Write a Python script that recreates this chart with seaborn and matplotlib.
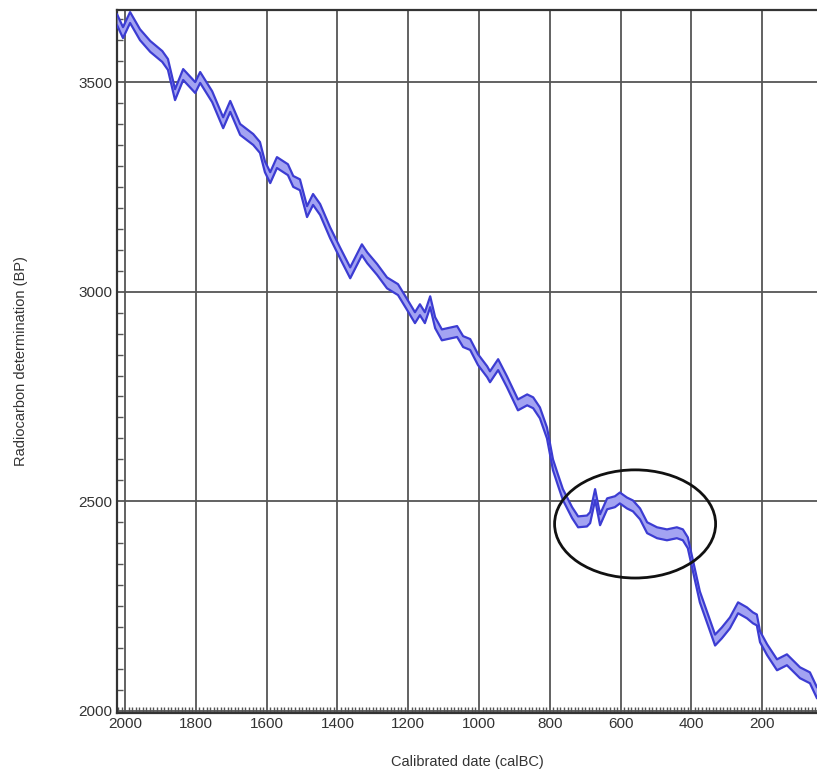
import matplotlib
matplotlib.use("Agg")
import matplotlib.pyplot as plt
from matplotlib.patches import Ellipse
from matplotlib.ticker import MultipleLocator
import seaborn as sns
import pandas as pd

# Calibration curve (calBC, radiocarbon BP)
years = [2023, 2006, 1986, 1958, 1929, 1895, 1879, 1859, 1836, 1802, 1788, 1754,
         1723, 1703, 1675, 1638, 1619, 1605, 1590, 1571, 1540, 1525, 1506, 1486,
         1469, 1449, 1421, 1393, 1364, 1331, 1316, 1288, 1260, 1229, 1203, 1181,
         1167, 1153, 1138, 1124, 1105, 1062, 1045, 1025, 1003, 977, 969, 946,
         921, 890, 864, 847, 828, 808, 791, 777, 763, 737, 720, 695, 686, 672,
         658, 638, 616, 602, 582, 565, 545, 525, 497, 469, 441, 424, 410, 395,
         376, 353, 333, 314, 291, 268, 243, 226, 215, 206, 186, 158, 130, 93, 65, 45]
bp = [3649, 3618, 3654, 3613, 3585, 3561, 3542, 3470, 3518, 3487, 3511, 3465,
      3403, 3442, 3387, 3363, 3344, 3298, 3272, 3308, 3291, 3263, 3255, 3191,
      3220, 3196, 3141, 3093, 3045, 3100, 3081, 3053, 3021, 3005, 2969, 2938,
      2957, 2938, 2976, 2926, 2897, 2905, 2881, 2874, 2838, 2809, 2797, 2826,
      2785, 2730, 2742, 2735, 2711, 2663, 2587, 2551, 2516, 2473, 2451, 2453, 2461, 2516,
      2456, 2494, 2499, 2508, 2496, 2489, 2470, 2437, 2425, 2420, 2425, 2420, 2401, 2344,
      2272, 2217, 2169, 2186, 2210, 2246, 2234, 2222, 2217, 2177, 2146, 2110, 2122, 2091, 2079, 2043]
band_halfwidth = 13

x_ticks = [2000, 1800, 1600, 1400, 1200, 1000, 800, 600, 400, 200]
y_ticks = [2000, 2500, 3000, 3500]

# Highlighted plateau (ellipse) in data units
ell_center = (559, 2446)
ell_width = 455
ell_height = 258

df = pd.DataFrame({"year": years, "bp": bp})
df["upper"] = df["bp"] + band_halfwidth
df["lower"] = df["bp"] - band_halfwidth

sns.set_style("white")
plt.rcParams["font.family"] = ["Liberation Sans", "DejaVu Sans"]

fig = plt.figure(figsize=(8.17, 7.73), dpi=100)
ax = fig.add_axes([0.1432, 0.0776, 0.8568, 0.9095])

ax.fill_between(df["year"], df["lower"], df["upper"], color="#a3a3f2", lw=0, zorder=3)
sns.lineplot(data=df, x="year", y="upper", ax=ax, color="#3c3cd2", lw=1.6, sort=False, zorder=4)
sns.lineplot(data=df, x="year", y="lower", ax=ax, color="#3c3cd2", lw=1.6, sort=False, zorder=4)

ax.add_patch(Ellipse(ell_center, ell_width, ell_height, fill=False,
                     edgecolor="#111111", lw=2.0, zorder=5))

ax.set_xlim(2023, 45)
ax.set_ylim(1995, 3672)
ax.set_xticks(x_ticks)
ax.set_yticks(y_ticks)
ax.xaxis.set_minor_locator(MultipleLocator(10))
ax.yaxis.set_minor_locator(MultipleLocator(50))
ax.grid(True, which="major", color="#555555", lw=1.3, zorder=1)
ax.tick_params(axis="both", which="major", direction="in", length=6, width=1.2,
               colors="#333333", labelsize=11, labelcolor="#333333")
ax.tick_params(axis="both", which="minor", direction="in", length=4, width=1.0,
               colors="#555555", bottom=True, left=True)
ax.tick_params(axis="x", pad=3)
for s in ["left", "bottom", "top"]:
    ax.spines[s].set_color("#333333")
    ax.spines[s].set_linewidth(1.6)
ax.spines["right"].set_visible(False)

ax.set_xlabel("Calibrated date (calBC)", fontsize=10.5, color="#333333", labelpad=17)
ax.set_ylabel("Radiocarbon determination (BP)", fontsize=10.5, color="#333333", labelpad=36)

fig.savefig("out.png", dpi=100)
